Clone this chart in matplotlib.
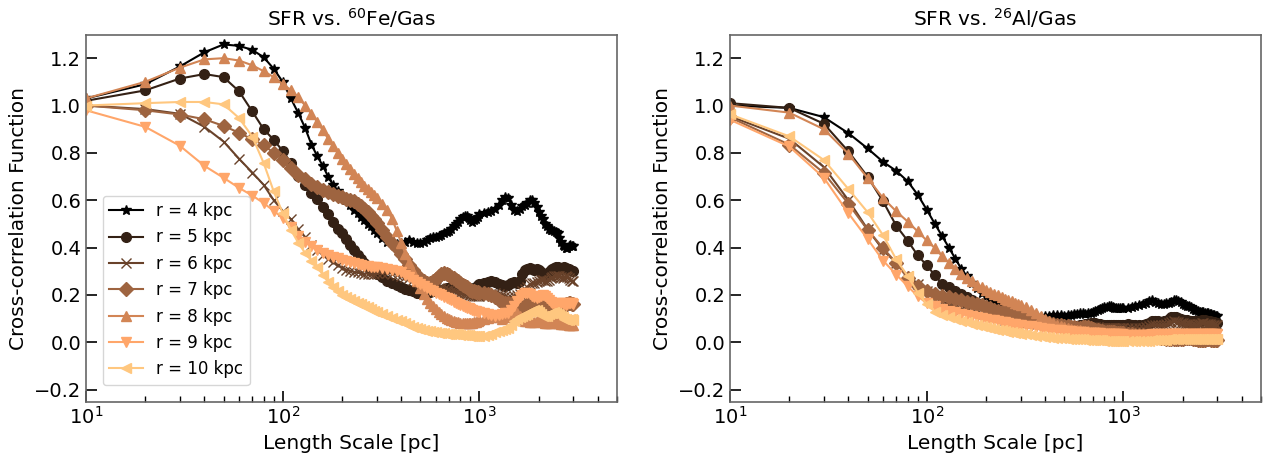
import numpy as np
import matplotlib
matplotlib.use("Agg")
import matplotlib.pyplot as plt

# length scale grid [pc]
length_pc = np.concatenate([np.arange(10, 301, 10),
                            np.arange(320, 1001, 20),
                            np.arange(1050, 3001, 50)])

radii = [4, 5, 6, 7, 8, 9, 10]
markers = ['*', 'o', 'x', 'D', '^', 'v', '<']

# SFR vs 60Fe/Gas
fe_r4 = [1.03, 1.09, 1.165, 1.225, 1.258, 1.252, 1.235, 1.204, 1.155, 1.10,
         1.03, 0.968, 0.905, 0.835, 0.785, 0.745, 0.70, 0.665, 0.64, 0.62,
         0.60, 0.58, 0.56, 0.545, 0.53, 0.515, 0.50, 0.49, 0.475, 0.46,
         0.44, 0.425, 0.42, 0.415, 0.42, 0.425, 0.43, 0.425, 0.42, 0.42,
         0.425, 0.43, 0.44, 0.445, 0.445, 0.45, 0.455, 0.46, 0.465, 0.47,
         0.48, 0.49, 0.50, 0.51, 0.52, 0.53, 0.535, 0.535, 0.525, 0.515,
         0.51, 0.515, 0.52, 0.53, 0.54,
         0.545, 0.55, 0.555, 0.565, 0.58, 0.60, 0.615, 0.61, 0.58, 0.56,
         0.555, 0.565, 0.575, 0.58, 0.59, 0.60, 0.60, 0.59, 0.57, 0.55,
         0.535, 0.52, 0.50, 0.49, 0.48, 0.475, 0.475, 0.47, 0.465, 0.46,
         0.44, 0.425, 0.41, 0.405, 0.40, 0.40, 0.405, 0.41, 0.405, 0.405]
fe_r5 = [1.02, 1.064, 1.114, 1.133, 1.12, 1.06, 0.975, 0.90, 0.855, 0.808,
         0.758, 0.702, 0.665, 0.632, 0.605, 0.57, 0.54, 0.51, 0.48, 0.46,
         0.435, 0.41, 0.39, 0.37, 0.35, 0.335, 0.32, 0.31, 0.30, 0.29,
         0.275, 0.26, 0.25, 0.24, 0.232, 0.225, 0.22, 0.215, 0.21, 0.208,
         0.208, 0.21, 0.212, 0.215, 0.218, 0.22, 0.222, 0.225, 0.228, 0.23,
         0.232, 0.235, 0.236, 0.236, 0.236, 0.234, 0.232, 0.23, 0.228, 0.226,
         0.225, 0.228, 0.235, 0.24, 0.245,
         0.25, 0.255, 0.258, 0.255, 0.248, 0.24, 0.238, 0.242, 0.25, 0.255,
         0.25, 0.26, 0.29, 0.305, 0.31, 0.312, 0.31, 0.305, 0.31, 0.305,
         0.295, 0.285, 0.28, 0.285, 0.295, 0.305, 0.31, 0.315, 0.318, 0.32,
         0.315, 0.31, 0.315, 0.32, 0.315, 0.31, 0.31, 0.305, 0.30, 0.30]
fe_r6 = [1.0, 0.985, 0.965, 0.91, 0.848, 0.775, 0.717, 0.665, 0.60, 0.555,
         0.52, 0.478, 0.445, 0.412, 0.39, 0.37, 0.352, 0.338, 0.325, 0.315,
         0.307, 0.302, 0.298, 0.295, 0.292, 0.29, 0.29, 0.29, 0.29, 0.292,
         0.293, 0.293, 0.29, 0.285, 0.28, 0.275, 0.27, 0.265, 0.258, 0.25,
         0.245, 0.24, 0.237, 0.235, 0.232, 0.23, 0.228, 0.225, 0.222, 0.22,
         0.218, 0.215, 0.212, 0.21, 0.208, 0.206, 0.204, 0.202, 0.20, 0.198,
         0.196, 0.195, 0.195, 0.195, 0.196,
         0.198, 0.20, 0.205, 0.21, 0.205, 0.20, 0.195, 0.19, 0.19, 0.195,
         0.20, 0.205, 0.215, 0.225, 0.235, 0.245, 0.25, 0.25, 0.255, 0.26,
         0.265, 0.262, 0.258, 0.26, 0.265, 0.27, 0.275, 0.278, 0.28, 0.282,
         0.28, 0.275, 0.27, 0.275, 0.28, 0.275, 0.27, 0.265, 0.26, 0.26]
fe_r7 = [1.0, 0.98, 0.962, 0.942, 0.914, 0.885, 0.857, 0.833, 0.80, 0.772,
         0.737, 0.705, 0.688, 0.67, 0.658, 0.645, 0.635, 0.628, 0.62, 0.614,
         0.605, 0.60, 0.595, 0.585, 0.575, 0.565, 0.55, 0.535, 0.52, 0.505,
         0.475, 0.445, 0.42, 0.398, 0.375, 0.35, 0.325, 0.305, 0.285, 0.268,
         0.258, 0.252, 0.252, 0.258, 0.268, 0.28, 0.29, 0.293, 0.29, 0.283,
         0.277, 0.272, 0.265, 0.258, 0.25, 0.244, 0.238, 0.232, 0.226, 0.222,
         0.218, 0.215, 0.213, 0.211, 0.21,
         0.207, 0.205, 0.20, 0.19, 0.18, 0.172, 0.167, 0.165, 0.16, 0.155,
         0.152, 0.15, 0.152, 0.155, 0.16, 0.165, 0.168, 0.167, 0.165, 0.16,
         0.155, 0.15, 0.148, 0.145, 0.142, 0.14, 0.138, 0.137, 0.138, 0.14,
         0.143, 0.147, 0.15, 0.155, 0.16, 0.163, 0.165, 0.165, 0.163, 0.16]
fe_r8 = [1.03, 1.10, 1.16, 1.195, 1.20, 1.19, 1.17, 1.145, 1.12, 1.09,
         1.066, 1.035, 1.0, 0.965, 0.93, 0.895, 0.86, 0.83, 0.80, 0.775,
         0.752, 0.73, 0.71, 0.692, 0.675, 0.66, 0.648, 0.635, 0.622, 0.61,
         0.585, 0.56, 0.52, 0.47, 0.42, 0.375, 0.335, 0.295, 0.26, 0.228,
         0.205, 0.185, 0.168, 0.153, 0.14, 0.128, 0.118, 0.11, 0.103, 0.098,
         0.094, 0.09, 0.087, 0.085, 0.083, 0.082, 0.081, 0.08, 0.08, 0.081,
         0.082, 0.084, 0.087, 0.09, 0.093,
         0.098, 0.103, 0.108, 0.11, 0.105, 0.10, 0.105, 0.115, 0.125, 0.128,
         0.122, 0.11, 0.10, 0.092, 0.088, 0.085, 0.084, 0.085, 0.088, 0.09,
         0.088, 0.085, 0.082, 0.08, 0.08, 0.082, 0.085, 0.087, 0.085, 0.082,
         0.08, 0.078, 0.077, 0.077, 0.076, 0.076, 0.075, 0.075, 0.075, 0.075]
fe_r9 = [0.98, 0.91, 0.83, 0.745, 0.695, 0.652, 0.62, 0.588, 0.555, 0.525,
         0.485, 0.45, 0.425, 0.405, 0.39, 0.378, 0.368, 0.36, 0.354, 0.348,
         0.343, 0.338, 0.334, 0.33, 0.327, 0.324, 0.322, 0.32, 0.318, 0.316,
         0.312, 0.308, 0.305, 0.302, 0.295, 0.285, 0.275, 0.265, 0.255, 0.245,
         0.237, 0.23, 0.223, 0.216, 0.21, 0.204, 0.198, 0.192, 0.187, 0.182,
         0.177, 0.172, 0.167, 0.163, 0.158, 0.154, 0.15, 0.146, 0.143, 0.14,
         0.137, 0.134, 0.131, 0.129, 0.127,
         0.122, 0.118, 0.115, 0.112, 0.115, 0.12, 0.124, 0.125, 0.135, 0.155,
         0.175, 0.19, 0.20, 0.208, 0.21, 0.205, 0.195, 0.19, 0.188, 0.19,
         0.195, 0.198, 0.195, 0.188, 0.18, 0.172, 0.165, 0.16, 0.158, 0.16,
         0.165, 0.168, 0.165, 0.16, 0.158, 0.16, 0.165, 0.168, 0.165, 0.163]
fe_r10 = [1.0, 1.01, 1.015, 1.015, 1.005, 0.947, 0.869, 0.757, 0.637, 0.546,
          0.475, 0.42, 0.377, 0.345, 0.317, 0.285, 0.255, 0.232, 0.215, 0.20,
          0.19, 0.182, 0.175, 0.168, 0.162, 0.155, 0.148, 0.14, 0.133, 0.127,
          0.118, 0.11, 0.102, 0.095, 0.088, 0.08, 0.073, 0.066, 0.06, 0.055,
          0.051, 0.048, 0.046, 0.044, 0.042, 0.04, 0.039, 0.038, 0.036, 0.035,
          0.034, 0.034, 0.033, 0.033, 0.032, 0.032, 0.031, 0.03, 0.029, 0.028,
          0.027, 0.026, 0.025, 0.025, 0.025,
          0.027, 0.03, 0.035, 0.042, 0.048, 0.052, 0.055, 0.06, 0.075, 0.09,
          0.10, 0.105, 0.11, 0.115, 0.12, 0.128, 0.133, 0.137, 0.138, 0.13,
          0.12, 0.112, 0.11, 0.113, 0.118, 0.122, 0.125, 0.126, 0.124, 0.12,
          0.115, 0.11, 0.105, 0.10, 0.097, 0.095, 0.096, 0.098, 0.097, 0.096]

# SFR vs 26Al/Gas
al_r4 = [1.0, 0.99, 0.951, 0.883, 0.819, 0.762, 0.724, 0.68, 0.623, 0.56,
         0.50, 0.447, 0.398, 0.352, 0.31, 0.28, 0.252, 0.228, 0.21, 0.194,
         0.182, 0.172, 0.162, 0.153, 0.146, 0.14, 0.134, 0.128, 0.124, 0.12,
         0.115, 0.111, 0.109, 0.108, 0.11, 0.113, 0.115, 0.115, 0.114, 0.113,
         0.114, 0.116, 0.118, 0.12, 0.122, 0.122, 0.121, 0.122, 0.125, 0.128,
         0.132, 0.136, 0.14, 0.145, 0.148, 0.15, 0.152, 0.152, 0.15, 0.147,
         0.145, 0.143, 0.143, 0.144, 0.145,
         0.147, 0.15, 0.153, 0.157, 0.162, 0.168, 0.175, 0.178, 0.172, 0.165,
         0.162, 0.163, 0.165, 0.168, 0.172, 0.178, 0.18, 0.176, 0.17, 0.163,
         0.158, 0.155, 0.152, 0.148, 0.142, 0.138, 0.135, 0.133, 0.13, 0.128,
         0.126, 0.125, 0.124, 0.122, 0.12, 0.118, 0.116, 0.114, 0.112, 0.11]
al_r5 = [1.01, 0.99, 0.923, 0.806, 0.70, 0.595, 0.492, 0.429, 0.367, 0.325,
         0.283, 0.245, 0.232, 0.218, 0.204, 0.192, 0.18, 0.168, 0.158, 0.15,
         0.142, 0.135, 0.128, 0.122, 0.116, 0.111, 0.106, 0.102, 0.098, 0.095,
         0.09, 0.086, 0.083, 0.08, 0.078, 0.076, 0.075, 0.074, 0.073, 0.072,
         0.071, 0.07, 0.069, 0.07, 0.072, 0.074, 0.076, 0.078, 0.08, 0.081,
         0.08, 0.078, 0.076, 0.075, 0.074, 0.074, 0.075, 0.075, 0.075, 0.074,
         0.073, 0.073, 0.073, 0.074, 0.075,
         0.076, 0.075, 0.074, 0.073, 0.074, 0.078, 0.083, 0.088, 0.09, 0.088,
         0.086, 0.088, 0.092, 0.098, 0.105, 0.108, 0.106, 0.102, 0.098, 0.096,
         0.095, 0.094, 0.092, 0.09, 0.088, 0.087, 0.088, 0.09, 0.092, 0.094,
         0.095, 0.094, 0.092, 0.09, 0.088, 0.086, 0.085, 0.084, 0.083, 0.082]
al_r6 = [0.955, 0.86, 0.74, 0.60, 0.478, 0.39, 0.335, 0.28, 0.245, 0.215,
         0.19, 0.172, 0.16, 0.15, 0.142, 0.135, 0.128, 0.122, 0.117, 0.112,
         0.108, 0.104, 0.10, 0.097, 0.094, 0.091, 0.088, 0.086, 0.084, 0.082,
         0.079, 0.076, 0.074, 0.072, 0.07, 0.068, 0.066, 0.065, 0.064, 0.063,
         0.062, 0.061, 0.06, 0.06, 0.06, 0.06, 0.061, 0.062, 0.063, 0.064,
         0.064, 0.063, 0.062, 0.061, 0.06, 0.06, 0.06, 0.06, 0.06, 0.06,
         0.06, 0.06, 0.06, 0.06, 0.06,
         0.061, 0.062, 0.062, 0.061, 0.062, 0.065, 0.068, 0.072, 0.074, 0.073,
         0.072, 0.074, 0.078, 0.082, 0.086, 0.088, 0.087, 0.085, 0.082, 0.08,
         0.078, 0.077, 0.076, 0.075, 0.074, 0.074, 0.075, 0.077, 0.078, 0.08,
         0.08, 0.079, 0.078, 0.077, 0.076, 0.075, 0.074, 0.073, 0.072, 0.072]
al_r7 = [0.95, 0.835, 0.715, 0.585, 0.475, 0.398, 0.335, 0.27, 0.236, 0.215,
         0.205, 0.197, 0.19, 0.183, 0.177, 0.171, 0.166, 0.161, 0.156, 0.148,
         0.143, 0.138, 0.134, 0.13, 0.126, 0.122, 0.119, 0.116, 0.113, 0.11,
         0.105, 0.10, 0.095, 0.09, 0.086, 0.082, 0.078, 0.075, 0.072, 0.069,
         0.067, 0.065, 0.063, 0.062, 0.062, 0.063, 0.064, 0.063, 0.06, 0.056,
         0.053, 0.05, 0.048, 0.046, 0.045, 0.044, 0.043, 0.042, 0.042, 0.042,
         0.041, 0.04, 0.04, 0.039, 0.038,
         0.036, 0.034, 0.032, 0.03, 0.029, 0.028, 0.028, 0.027, 0.025, 0.023,
         0.02, 0.017, 0.015, 0.014, 0.013, 0.012, 0.012, 0.013, 0.014, 0.015,
         0.017, 0.018, 0.018, 0.017, 0.015, 0.013, 0.012, 0.011, 0.01, 0.01,
         0.01, 0.011, 0.012, 0.012, 0.012, 0.011, 0.01, 0.01, 0.01, 0.01]
al_r8 = [1.0, 0.97, 0.90, 0.796, 0.694, 0.609, 0.553, 0.51, 0.468, 0.43,
         0.398, 0.363, 0.335, 0.31, 0.29, 0.272, 0.257, 0.244, 0.232, 0.222,
         0.213, 0.205, 0.198, 0.191, 0.185, 0.179, 0.173, 0.167, 0.162, 0.157,
         0.148, 0.136, 0.124, 0.112, 0.10, 0.09, 0.082, 0.075, 0.069, 0.064,
         0.06, 0.057, 0.054, 0.052, 0.05, 0.048, 0.047, 0.046, 0.045, 0.044,
         0.043, 0.042, 0.041, 0.04, 0.04, 0.039, 0.039, 0.038, 0.038, 0.038,
         0.037, 0.037, 0.036, 0.036, 0.036,
         0.035, 0.034, 0.034, 0.033, 0.033, 0.033, 0.034, 0.035, 0.035, 0.034,
         0.033, 0.033, 0.034, 0.036, 0.038, 0.04, 0.04, 0.039, 0.037, 0.035,
         0.033, 0.032, 0.031, 0.03, 0.03, 0.03, 0.031, 0.032, 0.033, 0.034,
         0.034, 0.033, 0.032, 0.031, 0.03, 0.03, 0.03, 0.03, 0.029, 0.029]
al_r9 = [0.94, 0.827, 0.695, 0.545, 0.437, 0.345, 0.286, 0.237, 0.195, 0.165,
         0.152, 0.142, 0.134, 0.127, 0.121, 0.116, 0.111, 0.107, 0.103, 0.099,
         0.096, 0.093, 0.09, 0.087, 0.084, 0.081, 0.079, 0.077, 0.075, 0.073,
         0.07, 0.067, 0.064, 0.061, 0.058, 0.056, 0.054, 0.052, 0.05, 0.048,
         0.047, 0.046, 0.045, 0.044, 0.043, 0.042, 0.041, 0.04, 0.04, 0.039,
         0.039, 0.038, 0.038, 0.037, 0.037, 0.036, 0.036, 0.035, 0.035, 0.034,
         0.034, 0.033, 0.033, 0.033, 0.032,
         0.032, 0.031, 0.031, 0.03, 0.03, 0.031, 0.032, 0.033, 0.034, 0.034,
         0.033, 0.033, 0.034, 0.035, 0.036, 0.037, 0.037, 0.036, 0.035, 0.034,
         0.034, 0.035, 0.036, 0.037, 0.037, 0.036, 0.035, 0.034, 0.034, 0.035,
         0.036, 0.037, 0.037, 0.036, 0.035, 0.035, 0.036, 0.036, 0.035, 0.035]
al_r10 = [0.963, 0.87, 0.77, 0.647, 0.55, 0.452, 0.35, 0.28, 0.21, 0.16,
          0.13, 0.115, 0.105, 0.097, 0.09, 0.084, 0.078, 0.073, 0.068, 0.064,
          0.06, 0.056, 0.053, 0.05, 0.047, 0.044, 0.042, 0.04, 0.038, 0.036,
          0.033, 0.03, 0.028, 0.026, 0.024, 0.022, 0.02, 0.019, 0.018, 0.017,
          0.016, 0.015, 0.014, 0.013, 0.012, 0.012, 0.011, 0.011, 0.01, 0.01,
          0.009, 0.009, 0.008, 0.008, 0.007, 0.007, 0.006, 0.006, 0.005, 0.005,
          0.005, 0.005, 0.004, 0.004, 0.004,
          0.004, 0.005, 0.006, 0.006, 0.005, 0.005, 0.006, 0.008, 0.01, 0.011,
          0.01, 0.01, 0.011, 0.013, 0.015, 0.016, 0.016, 0.015, 0.014, 0.013,
          0.013, 0.014, 0.015, 0.016, 0.016, 0.015, 0.014, 0.013, 0.013, 0.014,
          0.015, 0.016, 0.016, 0.015, 0.014, 0.014, 0.015, 0.016, 0.016, 0.015]

fe_series = [fe_r4, fe_r5, fe_r6, fe_r7, fe_r8, fe_r9, fe_r10]
al_series = [al_r4, al_r5, al_r6, al_r7, al_r8, al_r9, al_r10]

colors = plt.cm.copper(np.linspace(0, 1, len(radii)))

W, H = 1263, 454
fig = plt.figure(figsize=(W / 100, H / 100), dpi=100)
ax1 = fig.add_axes([86 / W, 52.5 / H, 531 / W, 367 / H])
ax2 = fig.add_axes([730 / W, 52.5 / H, 531 / W, 367 / H])

for ax, series, title in [(ax1, fe_series, r'SFR vs. $^{60}$Fe/Gas'),
                          (ax2, al_series, r'SFR vs. $^{26}$Al/Gas')]:
    for r, m, c, vals in zip(radii, markers, colors, series):
        ax.plot(length_pc, vals, marker=m, color=c, ms=7, lw=1.5,
                label='r = %d kpc' % r)
    ax.set_xscale('log')
    ax.set_xlim(10, 5000)
    ax.set_ylim(-0.25, 1.3)
    ax.set_yticks([-0.2, 0.0, 0.2, 0.4, 0.6, 0.8, 1.0, 1.2])
    ax.set_xlabel('Length Scale [pc]', fontsize=14.5)
    ax.set_ylabel('Cross-correlation Function', fontsize=14.5)
    ax.set_title(title, fontsize=14.5)
    ax.tick_params(which='both', direction='in', labelsize=14)
    ax.tick_params(which='major', length=8, width=1.2)
    ax.tick_params(which='minor', length=4, width=1.0)
    for s in ax.spines.values():
        s.set_color('0.4')
        s.set_linewidth(1.2)

ax1.legend(loc='lower left', fontsize=12, borderaxespad=1.0)

fig.savefig('out.png', dpi=100)
